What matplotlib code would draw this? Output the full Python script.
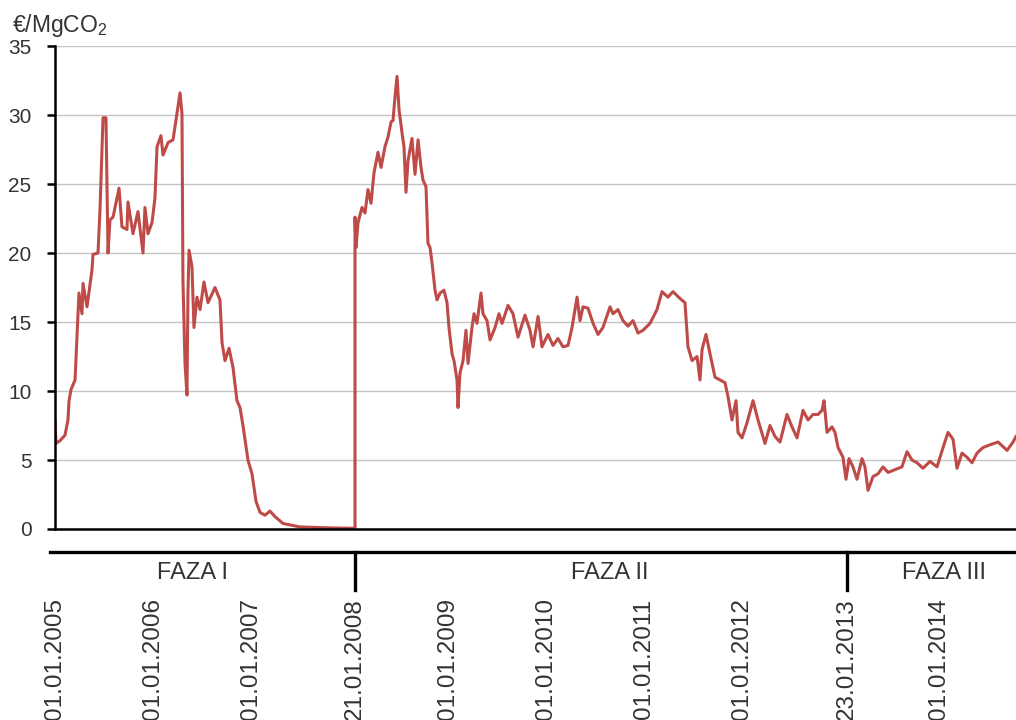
import matplotlib.pyplot as plt
import matplotlib.transforms as mtransforms

plt.rcParams['font.family'] = ['Liberation Sans', 'DejaVu Sans']
plt.rcParams['mathtext.default'] = 'regular'

# cena uprawnien EUA (EUR/MgCO2), czas w latach dziesietnych
years = [
    2005.000, 2005.010, 2005.051, 2005.102, 2005.132, 2005.143, 2005.163, 2005.204,
    2005.224, 2005.244, 2005.275, 2005.285, 2005.326, 2005.377, 2005.387, 2005.438,
    2005.458, 2005.489, 2005.519, 2005.530, 2005.540, 2005.560, 2005.591, 2005.652,
    2005.682, 2005.733, 2005.743, 2005.794, 2005.845, 2005.896, 2005.916, 2005.947,
    2005.988, 2006.018, 2006.039, 2006.079, 2006.100, 2006.151, 2006.202, 2006.242,
    2006.273, 2006.293, 2006.303, 2006.324, 2006.344, 2006.354, 2006.365, 2006.395,
    2006.415, 2006.446, 2006.477, 2006.517, 2006.558, 2006.629, 2006.680, 2006.701,
    2006.731, 2006.772, 2006.813, 2006.853, 2006.884, 2006.914, 2006.965, 2007.006,
    2007.047, 2007.088, 2007.138, 2007.189, 2007.240, 2007.322, 2007.495, 2007.800,
    2008.055,
    2008.055, 2008.065, 2008.086, 2008.126, 2008.157, 2008.187, 2008.218, 2008.248,
    2008.289, 2008.320, 2008.360, 2008.391, 2008.422, 2008.442, 2008.462, 2008.483,
    2008.503, 2008.534, 2008.554, 2008.574, 2008.595, 2008.635, 2008.666, 2008.697,
    2008.727, 2008.747, 2008.778, 2008.798, 2008.819, 2008.839, 2008.870, 2008.890,
    2008.921, 2008.961, 2008.992, 2009.012, 2009.043, 2009.063, 2009.094, 2009.104,
    2009.124, 2009.155, 2009.185, 2009.206, 2009.246, 2009.267, 2009.297, 2009.338,
    2009.358, 2009.399, 2009.430, 2009.481, 2009.521, 2009.552, 2009.613, 2009.664,
    2009.715, 2009.786, 2009.837, 2009.868, 2009.919, 2009.959, 2010.020, 2010.071,
    2010.122, 2010.173, 2010.224, 2010.265, 2010.316, 2010.346, 2010.377, 2010.428,
    2010.479, 2010.530, 2010.580, 2010.652, 2010.682, 2010.733, 2010.784, 2010.835,
    2010.886, 2010.937, 2010.988, 2011.059, 2011.130, 2011.181, 2011.242, 2011.293,
    2011.365, 2011.415, 2011.446, 2011.487, 2011.538, 2011.568, 2011.589, 2011.629,
    2011.670, 2011.721, 2011.772, 2011.823, 2011.853, 2011.894, 2011.935, 2011.955,
    2011.996, 2012.047, 2012.108, 2012.159, 2012.230, 2012.281, 2012.332, 2012.383,
    2012.454, 2012.505, 2012.556, 2012.617, 2012.668, 2012.719, 2012.770, 2012.811,
    2012.831, 2012.862, 2012.912, 2012.943, 2012.974, 2013.024, 2013.055, 2013.086,
    2013.126, 2013.167, 2013.218, 2013.248, 2013.279, 2013.330, 2013.381, 2013.432,
    2013.483, 2013.554, 2013.625, 2013.676, 2013.727, 2013.778, 2013.839, 2013.910,
    2013.982, 2014.043, 2014.094, 2014.145, 2014.185, 2014.236, 2014.287, 2014.338,
    2014.389, 2014.450, 2014.521, 2014.603, 2014.695, 2014.756, 2014.786,
]
price = [
    7.9, 6.2, 6.4, 6.8, 7.9, 9.3, 10.1, 10.8,
    13.9, 17.1, 15.6, 17.8, 16.1, 18.8, 19.9, 20.0,
    23.1, 29.8, 29.8, 24.6, 20.0, 22.4, 22.6, 24.7,
    21.9, 21.7, 23.7, 21.4, 23.0, 20.0, 23.3, 21.4,
    22.2, 24.0, 27.7, 28.5, 27.1, 28.0, 28.2, 30.1,
    31.6, 30.1, 18.0, 12.0, 9.7, 17.1, 20.2, 19.0,
    14.6, 16.8, 15.9, 17.9, 16.4, 17.5, 16.6, 13.5,
    12.2, 13.1, 11.7, 9.3, 8.8, 7.5, 5.0, 4.0,
    2.0, 1.2, 1.0, 1.3, 0.9, 0.4, 0.15, 0.08,
    0.05,
    22.6, 20.4, 22.2, 23.3, 22.9, 24.6, 23.6, 25.8,
    27.3, 26.2, 27.7, 28.4, 29.5, 29.6, 31.3, 32.8,
    30.4, 28.7, 27.7, 24.4, 26.7, 28.3, 25.7, 28.2,
    26.2, 25.3, 24.8, 20.7, 20.4, 19.3, 17.3, 16.6,
    17.1, 17.3, 16.4, 14.6, 12.7, 12.2, 10.8, 8.8,
    11.3, 12.2, 14.4, 12.0, 14.6, 15.6, 14.9, 17.1,
    15.6, 15.1, 13.7, 14.6, 15.6, 14.9, 16.2, 15.6,
    13.9, 15.5, 14.4, 13.2, 15.4, 13.2, 14.1, 13.3,
    13.8, 13.2, 13.3, 14.6, 16.8, 15.1, 16.1, 16.0,
    14.9, 14.1, 14.6, 16.1, 15.6, 15.9, 15.1, 14.7,
    15.1, 14.2, 14.4, 14.9, 15.9, 17.2, 16.8, 17.2,
    16.7, 16.4, 13.2, 12.2, 12.5, 10.8, 13.0, 14.1,
    12.7, 11.0, 10.8, 10.6, 9.6, 7.9, 9.3, 7.0,
    6.6, 7.7, 9.3, 7.9, 6.2, 7.5, 6.7, 6.3,
    8.3, 7.4, 6.6, 8.6, 7.9, 8.3, 8.3, 8.6,
    9.3, 7.0, 7.4, 7.0, 5.9, 5.2, 3.6, 5.1,
    4.5, 3.6, 5.1, 4.5, 2.8, 3.8, 4.0, 4.5,
    4.1, 4.3, 4.5, 5.6, 5.0, 4.8, 4.4, 4.9,
    4.5, 5.9, 7.0, 6.5, 4.4, 5.5, 5.2, 4.8,
    5.5, 5.9, 6.1, 6.3, 5.7, 6.3, 6.7,
]

tick_pos = [2005.0, 2006.0, 2007.0, 2008.055, 2009.0, 2010.0, 2011.0, 2012.0, 2013.06, 2014.0]
tick_labels = ['01.01.2005', '01.01.2006', '01.01.2007', '21.01.2008', '01.01.2009',
               '01.01.2010', '01.01.2011', '01.01.2012', '23.01.2013', '01.01.2014']
phase_bounds = [2008.055, 2013.06]
phase_names = ['FAZA I', 'FAZA II', 'FAZA III']
phase_x = [2006.40, 2010.65, 2014.05]

text_col = '#333333'

fig = plt.figure(figsize=(10.16, 7.2), dpi=100)
ax = fig.add_axes([55 / 1016, 1 - 529 / 720, 1 - 55 / 1016, 483 / 720])

ax.plot(years, price, color='#bf4b48', lw=2.2, solid_joinstyle='round')

trans = mtransforms.blended_transform_factory(ax.transData, ax.transAxes)
y_band = -23 / 483
y_sep = -61 / 483
ax.plot([2004.95, 2014.786], [y_band, y_band], color='black', lw=2.4,
        transform=trans, clip_on=False)
for b in phase_bounds:
    ax.plot([b, b], [y_band, y_sep], color='black', lw=2.4, transform=trans, clip_on=False)
for name, px in zip(phase_names, phase_x):
    ax.text(px, -44 / 483, name, transform=trans, ha='center', va='center',
            fontsize=17, color=text_col)

ax.set_xlim(2005.0, 2014.786)
ax.set_ylim(0, 35)
ax.set_yticks(range(0, 36, 5))
ax.yaxis.grid(True, color='#c4c4c4', lw=1)
ax.set_axisbelow(True)

for s in ['top', 'right']:
    ax.spines[s].set_visible(False)
ax.spines['left'].set_linewidth(1.8)
ax.spines['bottom'].set_linewidth(1.8)

ax.tick_params(axis='y', length=6, width=1.8, pad=11, labelsize=15, labelcolor=text_col)
ax.set_xticks(tick_pos, tick_labels, rotation=90)
ax.tick_params(axis='x', length=0, pad=50, labelsize=17.5, labelcolor=text_col)

fig.text(12 / 1016, 1 - 32 / 720, '€/MgCO$_2$', fontsize=16.5, color=text_col, va='baseline')

fig.savefig('out.png', dpi=100)
